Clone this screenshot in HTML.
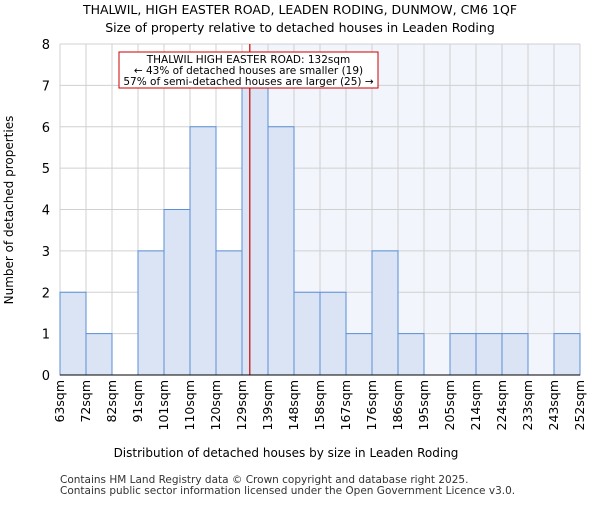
<!DOCTYPE html>
<html><head><meta charset="utf-8"><style>
body{margin:0;background:#fff;font-family:"Liberation Sans","DejaVu Sans",sans-serif;}
</style></head><body>
<svg id="c" width="600" height="500" xmlns="http://www.w3.org/2000/svg" font-family="DejaVu Sans, Liberation Sans, sans-serif">
<text x="300" y="14" text-anchor="middle" font-size="12.5">THALWIL, HIGH EASTER ROAD, LEADEN RODING, DUNMOW, CM6 1QF</text>
<text x="300" y="32" text-anchor="middle" font-size="12.5">Size of property relative to detached houses in Leaden Roding</text>
<g id="plot"></g>
<text x="286" y="457" text-anchor="middle" font-size="12">Distribution of detached houses by size in Leaden Roding</text>
<text transform="translate(13,210) rotate(-90)" text-anchor="middle" font-size="12">Number of detached properties</text>
<text x="60" y="483" font-size="10.5" fill="#333">Contains HM Land Registry data © Crown copyright and database right 2025.</text>
<text x="60" y="494" font-size="10.5" fill="#333">Contains public sector information licensed under the Open Government Licence v3.0.</text>
</svg>
<script>
const categories=["63sqm","72sqm","82sqm","91sqm","101sqm","110sqm","120sqm","129sqm","139sqm","148sqm","158sqm","167sqm","176sqm","186sqm","195sqm","205sqm","214sqm","224sqm","233sqm","243sqm","252sqm"];
const counts=[2,1,0,3,4,6,3,7,6,2,2,1,3,1,0,1,1,1,0,1];
const yTicks=[0,1,2,3,4,5,6,7,8];
const markerBin=7.3;
const NS="http://www.w3.org/2000/svg";
const g=document.getElementById('plot');
const X0=60,X1=580,Y0=375,Y1=44,nb=counts.length;
const bw=(X1-X0)/nb;
const xs=i=>X0+i*bw;
const ys=v=>Y0-(v/8)*(Y0-Y1);
function mk(t,a){const e=document.createElementNS(NS,t);for(const k in a)e.setAttribute(k,a[k]);g.appendChild(e);return e;}
const mx=xs(markerBin);
let e=mk('rect',{x:mx,y:Y1,width:X1-mx,height:Y0-Y1,fill:'#f2f5fc'});


yTicks.forEach(t=>{let l=mk('line',{x1:X0,x2:X1,y1:ys(t),y2:ys(t),stroke:'#d0d0d0'});


let tx=mk('text',{x:X0-10,y:ys(t)+5,'text-anchor':'end','font-size':'13'});tx.textContent=t;

});
for(let i=0;i<=nb;i++){let l=mk('line',{x1:xs(i),x2:xs(i),y1:Y1,y2:Y0,stroke:'#d0d0d0'});

}
counts.forEach((v,i)=>{if(v>0){let r=mk('rect',{x:xs(i),y:ys(v),width:bw,height:Y0-ys(v),fill:'#dae4f4',stroke:'#5b8fd6','stroke-width':1});

}});
categories.forEach((c,i)=>{let x=xs(i),tx=mk('text',{transform:`translate(${x+4},380) rotate(-90)`,'text-anchor':'end','font-size':'12.5'});tx.textContent=c;

});
let ml=mk('line',{x1:mx,x2:mx,y1:Y1,y2:Y0,stroke:'#cc0000','stroke-width':1.2});


let ax=mk('line',{x1:X0,x2:X1,y1:Y0,y2:Y0,stroke:'#000'});


let bx=mk('rect',{x:119,y:52,width:259,height:36,fill:'#fff',stroke:'#cc0000'});


["THALWIL HIGH EASTER ROAD: 132sqm","← 43% of detached houses are smaller (19)","57% of semi-detached houses are larger (25) →"].forEach((s,i)=>{let t=mk('text',{x:248.5,y:63+i*11,'text-anchor':'middle','font-size':'10.5'});t.textContent=s;

});
</script>
</body></html>
